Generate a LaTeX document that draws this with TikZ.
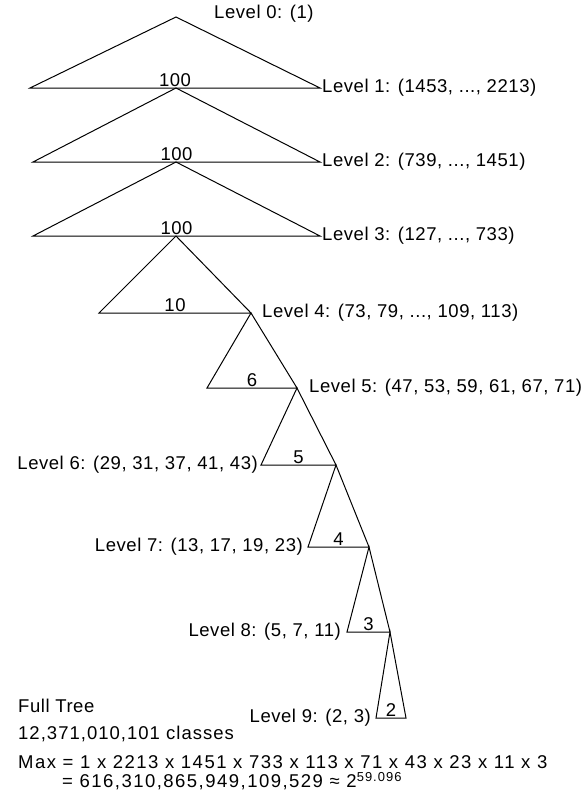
\documentclass[tikz,border=0pt]{standalone}
\usepackage{fontspec}
\setmainfont{Liberation Sans}[LetterSpace=3]
\newfontfamily\widefont{Liberation Sans}[LetterSpace=8]
\newfontfamily\midfont{Liberation Sans}[LetterSpace=5.5]
\usetikzlibrary{positioning}

\begin{document}
\begin{tikzpicture}[
    x=1pt, y=-1pt,
    tri/.style={draw=black, line width=1pt, line join=miter},
    lvl/.style={font=\fontsize{18.5}{21}\selectfont, inner sep=0pt},
    cnt/.style={font=\fontsize{18.5}{21}\selectfont, inner sep=1pt},
    note/.style={font=\widefont\fontsize{18.5}{21}\selectfont, inner sep=0pt, anchor=west},
  ]
  \useasboundingbox (0,0) rectangle (583,792);

  %% ── Apex and base corners of every level ──
  \coordinate (A0) at (176,17);
  \coordinate (L0) at (30,88);   \coordinate (R0) at (320,88);
  \coordinate (A1) at (176,88);
  \coordinate (L1) at (33,162);  \coordinate (R1) at (320,162);
  \coordinate (A2) at (176,162);
  \coordinate (L2) at (33,236);  \coordinate (R2) at (320,236);
  \coordinate (A3) at (176,236);
  \coordinate (L3) at (99,313);  \coordinate (R3) at (251,313);
  \coordinate (A4) at (R3);
  \coordinate (L4) at (207,388); \coordinate (R4) at (297,388);
  \coordinate (A5) at (R4);
  \coordinate (L5) at (261,465); \coordinate (R5) at (336,465);
  \coordinate (A6) at (R5);
  \coordinate (L6) at (308,547); \coordinate (R6) at (369,547);
  \coordinate (A7) at (R6);
  \coordinate (L7) at (347,632); \coordinate (R7) at (390,632);
  \coordinate (A8) at (R7);
  \coordinate (L8) at (376,718); \coordinate (R8) at (406,718);

  %% ── Triangles with branching counts ──
  \foreach \i/\n in {0/100, 1/100, 2/100, 3/10, 4/6, 5/5, 6/4, 7/3, 8/2}
    \draw[tri] (A\i) -- (L\i) -- node[cnt, above] (n\i) {\n} (R\i) -- cycle;

  %% ── Level labels ──
  \node[lvl, anchor=west] (lev0) at (214,14) {Level 0: (1)};
  \node[lvl, right=2pt of R0] (lev1) {Level 1: (1453, ..., 2213)};
  \node[lvl, right=2pt of R1] (lev2) {Level 2: (739, ..., 1451)};
  \node[lvl, right=2pt of R2] (lev3) {Level 3: (127, ..., 733)};
  \node[lvl, right=11pt of R3] (lev4) {Level 4: (73, 79, ..., 109, 113)};
  \node[lvl, right=12pt of R4] (lev5) {Level 5: (47, 53, 59, 61, 67, 71)};
  \node[lvl, left=3pt of L5] (lev6) {Level 6: (29, 31, 37, 41, 43)};
  \node[lvl, left=5pt of L6] (lev7) {Level 7: (13, 17, 19, 23)};
  \node[lvl, left=6pt of L7] (lev8) {Level 8: (5, 7, 11)};
  \node[lvl, left=5pt of L8] (lev9) {Level 9: (2, 3)};

  %% ── Totals ──
  \node[lvl, anchor=west] (full) at (18,706) {Full Tree};
  \node[note, font=\midfont\fontsize{18.5}{21}\selectfont] (classes) at (18,734) {12,371,010,101 classes};
  \node[note] (max) at (18,762) {Max = 1 x 2213 x 1451 x 733 x 113 x 71 x 43 x 23 x 11 x 3};
  \node[note] (prod) at (62,781.5) {= 616,310,865,949,109,529 ≈ 2\textsuperscript{59.096}};

\end{tikzpicture}
\end{document}
